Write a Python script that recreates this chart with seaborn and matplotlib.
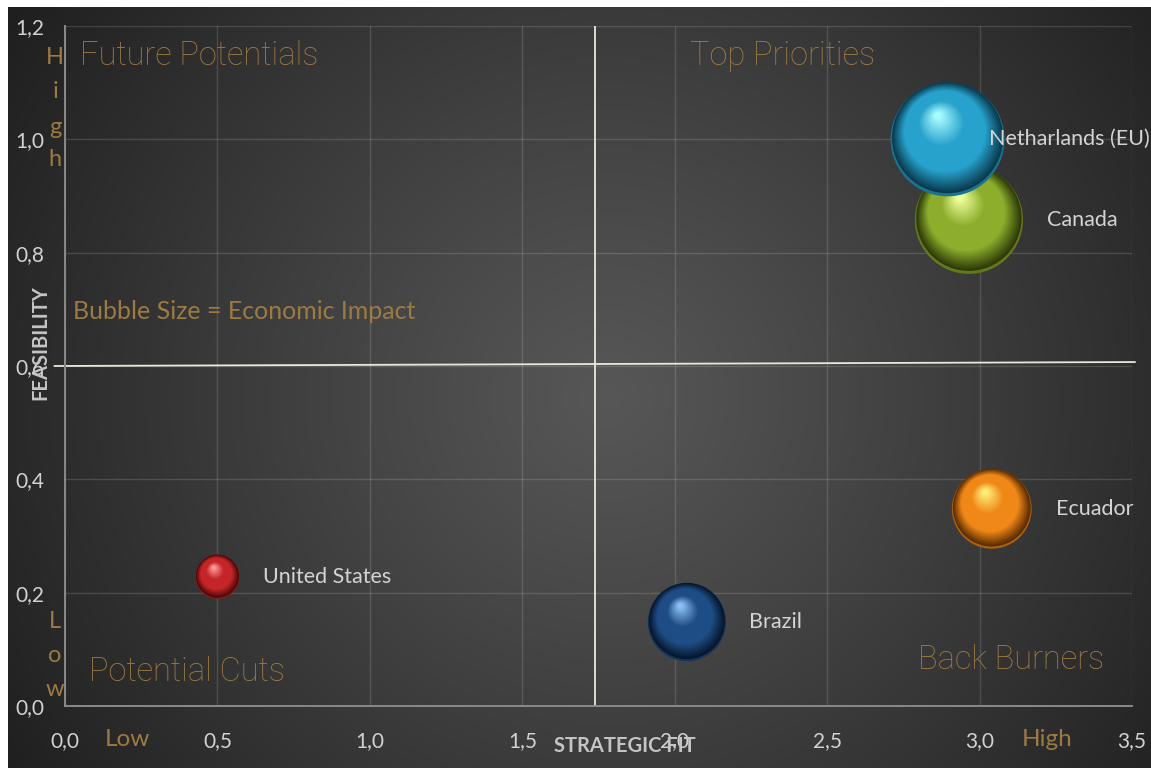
import numpy as np
import pandas as pd
import matplotlib
matplotlib.use("Agg")
import matplotlib.pyplot as plt
from matplotlib.colors import to_rgb
from matplotlib.transforms import ScaledTranslation
import seaborn as sns

# ---- data -------------------------------------------------------------
countries = ["United States", "Brazil", "Ecuador", "Canada", "Netharlands (EU)"]
strategic_fit = [0.50, 2.04, 3.04, 2.965, 2.895]
feasibility = [0.228, 0.148, 0.348, 0.858, 1.00]
economic_impact = [1.5, 4.7, 4.9, 9.0, 10.0]

x_ticks = [0.0, 0.5, 1.0, 1.5, 2.0, 2.5, 3.0, 3.5]
y_ticks = [0.0, 0.2, 0.4, 0.6, 0.8, 1.0, 1.2]
x_tick_labels = ["0,0", "0,5", "1,0", "1,5", "2,0", "2,5", "3,0", "3,5"]
y_tick_labels = ["0,0", "0,2", "0,4", "0,6", "0,8", "1,0", "1,2"]

fit_split = 1.74
feas_split = 0.60

# ---- styling ----------------------------------------------------------
W, H, DPI = 1151, 768, 100
GOLD = "#9c7a44"
TICK = "#d2d2d2"
LABEL = "#c4c4c4"
SMAX = 6735.0          # marker area (pt^2) for the largest impact value

# (dark edge, body, highlight) per sphere
sphere_colors = {
    "United States": ("#4a0808", "#c42528", "#ff9a9a"),
    "Brazil": ("#06162c", "#1e4c84", "#8cc0f4"),
    "Ecuador": ("#5a2c02", "#f08818", "#fff07a"),
    "Canada": ("#2e3a08", "#8cae2c", "#f0ff9c"),
    "Netharlands (EU)": ("#0a3a4e", "#27a2cc", "#a8fbff"),
}
# distance (pt) from bubble centre to the start of its label
label_offsets = {
    "United States": 33, "Brazil": 44.5, "Ecuador": 46,
    "Canada": 56, "Netharlands (EU)": 29.5,
}

sns.set_theme(style="dark")
plt.rcParams["font.family"] = ["Lato", "DejaVu Sans"]

fig = plt.figure(figsize=(W / DPI, H / DPI), dpi=DPI, facecolor="white")


def px(x, y):
    """pixel position -> figure fraction"""
    return x / W, 1 - y / H


# radial dark backdrop
bg = fig.add_axes([8 / W, 0, 1 - 8 / W, 1 - 7 / H], zorder=-10)
gy, gx = np.mgrid[0:H - 7, 0:W - 8]
cx, cy = 600, 390
d = np.hypot(gx - cx, gy - cy) / np.hypot(cx, cy)
val = 0.34 - 0.22 * np.clip(d, 0, 1.2) ** 1.1
bg.imshow(np.dstack([val, val, val]), aspect="auto", interpolation="bilinear",
          extent=(0, 1, 0, 1))
bg.set_axis_off()

ax = fig.add_axes([65 / W, 62 / H, (1132 - 65) / W, (706 - 26) / H])
ax.set_facecolor("none")

# quadrant dividers
ax.plot([fit_split, fit_split], [0, 1.2], color="#e8e8dc", lw=1.3, zorder=2)
ax.plot([-0.035, 3.51], [feas_split, feas_split + 0.007], color="#e8e8dc",
        lw=1.3, zorder=2, clip_on=False)

df = pd.DataFrame({"country": countries, "fit": strategic_fit,
                   "feas": feasibility, "impact": economic_impact})


def mix(stops, t):
    ts = [s[0] for s in stops]
    cols = np.array([to_rgb(s[1]) for s in stops])
    return tuple(np.interp(t, ts, cols[:, k]) for k in range(3))


N = 40
for i, row in df.iterrows():
    dark, body, hi = sphere_colors[row.country]
    stops = [(0.0, dark), (0.28, body), (0.62, body), (1.0, hi)]
    rim = mix([(0, dark), (1, body)], 0.55)   # soft reflected light at the base
    z = 3 + i * 2
    sns.scatterplot(data=df.iloc[[i]], x="fit", y="feas", size="impact",
                    sizes=(0, SMAX), size_norm=(0, 10), color=[rim],
                    edgecolor="none", linewidth=0, legend=False, ax=ax,
                    zorder=z)
    area = SMAX * row.impact / 10
    r = np.sqrt(area) / 2
    start = np.array([0.0, 0.03 * r])
    end = np.array([-0.17 * r, 0.42 * r])
    r0, r1 = 0.975 * r, 0.06 * r
    for t in np.linspace(0, 1, N):
        off = start + t * (end - start)
        rad = r0 + t * (r1 - r0)
        tr = ax.transData + ScaledTranslation(off[0] / 72, off[1] / 72,
                                              fig.dpi_scale_trans)
        ax.scatter([row.fit], [row.feas], s=(2 * rad) ** 2, color=[mix(stops, t)],
                   edgecolors="none", transform=tr, zorder=z + 0.5 + t * 0.4)
    ax.annotate(row.country, (row.fit, row.feas),
                xytext=(label_offsets[row.country], 0),
                textcoords="offset points", ha="left", va="center",
                fontsize=15.5, color="#d4d4d4", zorder=20, annotation_clip=False)

ax.set_xlim(0, 3.5)
ax.set_ylim(0, 1.2)
ax.set_xticks(x_ticks)
ax.set_xticklabels(x_tick_labels)
ax.set_yticks(y_ticks)
ax.set_yticklabels(y_tick_labels)
ax.tick_params(axis="x", length=0, pad=18, labelsize=15, labelcolor=TICK)
ax.tick_params(axis="y", length=0, pad=15, labelsize=15, labelcolor=TICK)
ax.grid(True, color="white", alpha=0.14, linewidth=1.0)
for side in ("top", "right"):
    ax.spines[side].set_visible(False)
for side in ("left", "bottom"):
    ax.spines[side].set_visible(True)
    ax.spines[side].set_color("#8a8a8a")
    ax.spines[side].set_linewidth(1.4)
ax.set_xlabel("")
ax.set_ylabel("")

# quadrant captions
qfont = dict(family=["Roboto", "DejaVu Sans"], fontweight="light",
             fontsize=23.5, color=GOLD)
fig.text(*px(80, 56), "Future Potentials", ha="left", va="center", **qfont)
fig.text(*px(690, 56), "Top Priorities", ha="left", va="center", **qfont)
fig.text(*px(89, 672), "Potential Cuts", ha="left", va="center", **qfont)
fig.text(*px(918, 660), "Back Burners", ha="left", va="center", **qfont)

fig.text(*px(73, 311), "Bubble Size = Economic Impact", ha="left",
         va="center", fontsize=18, color=GOLD)

# High / Low markers along the axes
for ch, yy in zip("High", [57, 92, 127, 160]):
    fig.text(*px(55, yy), ch, ha="center", va="center", fontsize=17, color=GOLD)
for ch, yy in zip("Low", [621, 656, 690]):
    fig.text(*px(55, yy), ch, ha="center", va="center", fontsize=17, color=GOLD)
fig.text(*px(127, 740), "Low", ha="center", va="center", fontsize=17.5, color=GOLD)
fig.text(*px(1047, 740), "High", ha="center", va="center", fontsize=17.5, color=GOLD)

# axis titles
fig.text(*px(625, 746), "STRATEGIC FIT", ha="center", va="center",
         fontsize=14.5, fontweight="bold", color=LABEL)
fig.text(*px(40, 343), "FEASIBILITY", ha="center", va="center", rotation=90,
         fontsize=14.5, fontweight="bold", color=LABEL)

fig.savefig("out.png", dpi=DPI, facecolor="white")
